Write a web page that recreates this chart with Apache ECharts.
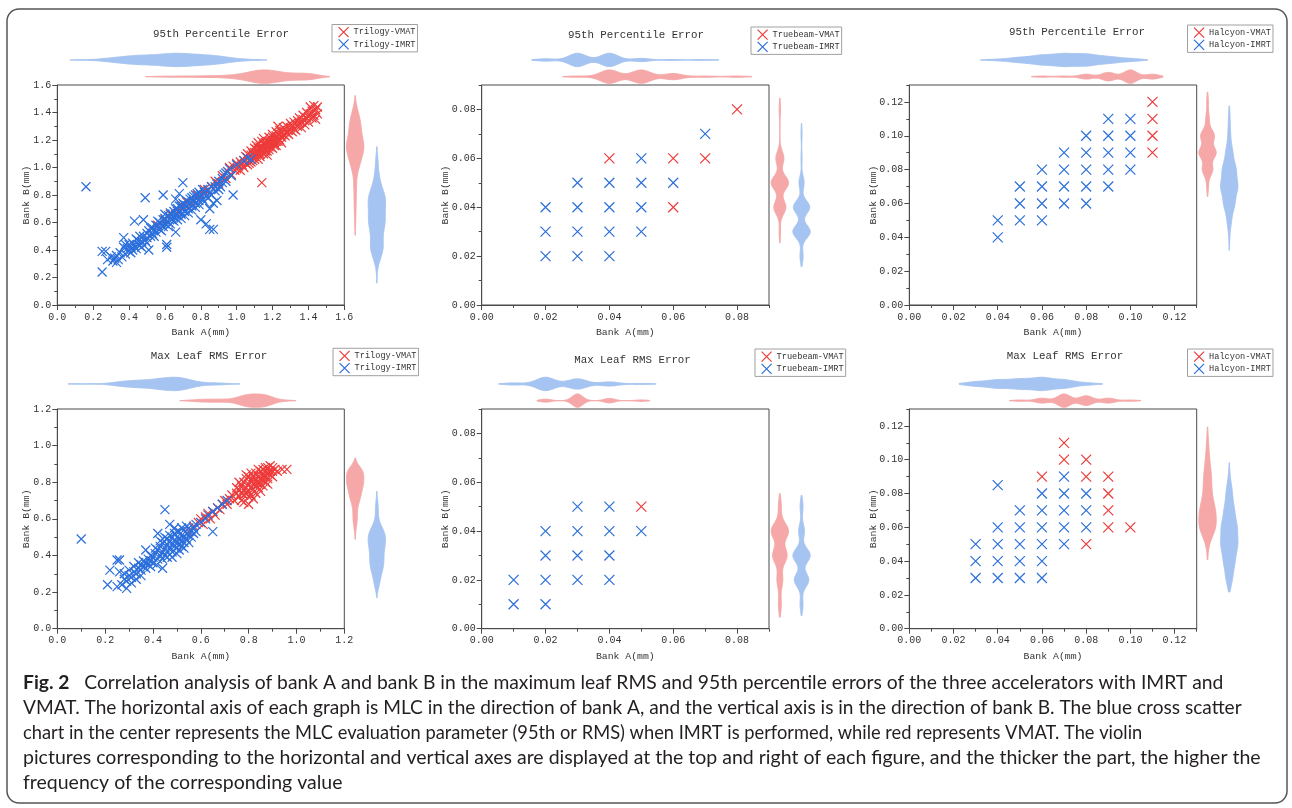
<!DOCTYPE html>
<html><head><meta charset="utf-8">
<script src="https://cdn.jsdelivr.net/npm/echarts@6/dist/echarts.min.js"></script>
<style>html,body{margin:0;padding:0;background:#fff}#c{width:1292px;height:808px}</style>
</head><body><div id="c"></div>
<script>
// ---------------- DATA ----------------
// Trilogy, 95th percentile error  [bankA, bankB] (mm)
const TRILOGY_95_VMAT = [
[0.56,0.58],[0.60,0.62],[0.63,0.66],[0.67,0.68],[0.70,0.72],[0.72,0.75],[0.75,0.74],[0.78,0.80],[0.80,0.78],[0.82,0.84],[0.84,0.83],[0.86,0.86],[0.88,0.90],[0.90,0.88],[0.92,0.94],[0.94,0.92],[0.95,0.97],[0.96,1.00],[0.97,0.95],[0.98,1.01],[0.99,0.98],[1.00,1.03],[1.00,0.99],[1.01,1.01],[1.02,1.04],[1.02,0.98],[1.03,1.02],[1.04,1.05],[1.04,1.00],[1.05,1.03],[1.06,1.07],[1.06,1.02],[1.07,1.05],[1.08,1.09],[1.08,1.04],[1.09,1.07],[1.10,1.11],[1.10,1.06],[1.11,1.09],[1.11,1.13],[1.12,1.10],[1.12,1.14],[1.13,1.12],[1.13,1.08],[1.14,0.89],[1.14,1.15],[1.14,1.11],[1.15,1.13],[1.15,1.17],[1.16,1.14],[1.16,1.18],[1.17,1.12],[1.17,1.16],[1.18,1.19],[1.18,1.15],[1.19,1.17],[1.19,1.21],[1.20,1.18],[1.20,1.22],[1.21,1.16],[1.21,1.20],[1.22,1.23],[1.22,1.19],[1.23,1.21],[1.23,1.30],[1.24,1.24],[1.24,1.20],[1.25,1.22],[1.25,1.26],[1.26,1.24],[1.26,1.29],[1.27,1.23],[1.27,1.27],[1.28,1.25],[1.28,1.30],[1.29,1.27],[1.29,1.24],[1.30,1.29],[1.30,1.32],[1.31,1.26],[1.31,1.30],[1.32,1.28],[1.32,1.33],[1.33,1.31],[1.33,1.27],[1.34,1.34],[1.34,1.30],[1.35,1.32],[1.35,1.36],[1.36,1.33],[1.36,1.29],[1.37,1.35],[1.37,1.38],[1.38,1.34],[1.38,1.31],[1.39,1.36],[1.39,1.40],[1.40,1.37],[1.40,1.33],[1.41,1.39],[1.41,1.44],[1.42,1.36],[1.42,1.41],[1.43,1.45],[1.43,1.38],[1.44,1.42],[1.44,1.35],[1.45,1.44],[1.45,1.39],
[1.05,1.08],[1.06,1.10],[1.07,1.03],[1.08,1.12],[1.09,1.05],[1.10,1.14],[1.10,1.08],[1.11,1.16],[1.12,1.06],[1.12,1.18],[1.13,1.10],[1.13,1.15],[1.14,1.19],[1.15,1.10],[1.15,1.21],[1.16,1.12],[1.16,1.16],[1.17,1.19],[1.17,1.09],[1.18,1.22],[1.18,1.13],[1.19,1.15],[1.20,1.24],[1.20,1.14],[1.21,1.18],[1.22,1.16],[1.22,1.26],[1.23,1.19],[1.24,1.27],[1.25,1.18],[1.14,1.13],[1.11,1.11],[1.09,1.10],[1.19,1.19]
];
const TRILOGY_95_IMRT = [
[0.16,0.86],[0.25,0.24],[0.25,0.39],[0.27,0.39],[0.28,0.33],[0.30,0.35],[0.31,0.32],[0.32,0.34],[0.33,0.31],[0.33,0.36],[0.34,0.33],[0.35,0.38],[0.36,0.35],[0.37,0.42],[0.37,0.49],[0.38,0.37],[0.39,0.41],[0.40,0.39],[0.40,0.44],[0.41,0.42],[0.42,0.40],[0.42,0.45],[0.43,0.61],[0.43,0.43],[0.44,0.41],[0.45,0.44],[0.45,0.47],[0.46,0.43],
[0.47,0.46],[0.48,0.50],[0.48,0.62],[0.49,0.78],[0.49,0.47],[0.50,0.52],[0.50,0.49],[0.51,0.40],[0.51,0.54],[0.52,0.50],[0.53,0.56],[0.53,0.52],[0.54,0.55],[0.55,0.58],[0.55,0.53],[0.56,0.57],[0.57,0.60],[0.57,0.55],[0.58,0.58],[0.59,0.80],[0.59,0.62],[0.60,0.59],[0.60,0.63],[0.61,0.44],[0.61,0.42],[0.61,0.61],[0.62,0.65],[0.62,0.60],[0.63,0.63],[0.63,0.67],[0.64,0.62],[0.64,0.66],[0.65,0.64],[0.65,0.68],[0.66,0.53],[0.66,0.66],[0.66,0.77],[0.67,0.70],[0.67,0.65],[0.68,0.81],[0.68,0.68],[0.69,0.72],[0.69,0.66],[0.70,0.89],[0.70,0.70],[0.70,0.74],
[0.71,0.68],[0.72,0.72],[0.72,0.76],[0.73,0.70],[0.74,0.74],[0.74,0.77],[0.75,0.72],[0.76,0.76],[0.76,0.79],[0.77,0.74],[0.78,0.78],[0.78,0.81],[0.79,0.76],[0.80,0.62],[0.80,0.80],[0.81,0.77],[0.82,0.82],[0.83,0.59],[0.83,0.79],[0.84,0.84],[0.85,0.55],[0.85,0.70],[0.85,0.81],[0.86,0.86],[0.87,0.55],[0.87,0.74],[0.88,0.83],[0.89,0.76],[0.89,0.88],[0.90,0.90],[0.91,0.86],[0.92,0.92],[0.93,0.95],[0.94,0.90],[0.95,0.97],[0.96,0.99],[0.98,0.80],[1.00,1.02],[1.04,1.05],[1.06,1.07],[1.08,1.06],
[0.38,0.44],[0.41,0.38],[0.44,0.48],[0.46,0.50],[0.47,0.42],[0.50,0.45],[0.52,0.56],[0.54,0.50],[0.56,0.61],[0.58,0.54],[0.59,0.57],[0.60,0.66],[0.62,0.57],[0.63,0.59],[0.65,0.61],[0.66,0.70],[0.67,0.62],[0.68,0.72],[0.69,0.63],[0.71,0.73],[0.71,0.65],[0.73,0.75],[0.73,0.67],[0.75,0.78],[0.75,0.69],[0.77,0.80],[0.77,0.71],[0.79,0.82],[0.79,0.73],[0.81,0.84],[0.82,0.75],[0.84,0.78],[0.86,0.80],[0.88,0.86],[0.90,0.84],[0.92,0.89],[0.94,0.96],[0.97,0.94]
];
// Trilogy, max leaf RMS error
const TRILOGY_RMS_VMAT = [
[0.55,0.53],[0.57,0.56],[0.59,0.58],[0.60,0.60],[0.61,0.57],[0.62,0.61],[0.63,0.63],[0.64,0.60],[0.65,0.64],[0.66,0.62],[0.67,0.66],[0.68,0.65],[0.69,0.68],[0.70,0.70],[0.71,0.68],[0.72,0.71],[0.73,0.73],[0.74,0.70],[0.75,0.74],[0.75,0.77],[0.76,0.72],[0.76,0.76],[0.77,0.78],[0.77,0.74],[0.78,0.69],[0.78,0.76],[0.78,0.80],[0.79,0.77],[0.79,0.74],[0.79,0.82],[0.80,0.68],[0.80,0.79],[0.80,0.75],[0.80,0.83],[0.81,0.77],[0.81,0.81],[0.81,0.73],[0.82,0.79],[0.82,0.83],[0.82,0.76],[0.83,0.81],[0.83,0.78],[0.83,0.85],[0.84,0.80],[0.84,0.83],[0.84,0.77],[0.85,0.82],[0.85,0.86],[0.85,0.79],[0.86,0.84],[0.86,0.81],[0.86,0.87],[0.87,0.83],[0.87,0.86],[0.87,0.80],[0.88,0.85],[0.88,0.88],[0.88,0.82],[0.89,0.86],[0.89,0.84],[0.90,0.88],[0.90,0.86],[0.94,0.87],[0.96,0.87],
[0.76,0.80],[0.77,0.70],[0.79,0.84],[0.80,0.72],[0.81,0.85],[0.82,0.71],[0.83,0.74],[0.84,0.87],[0.85,0.75],[0.86,0.78],[0.87,0.88],[0.88,0.79],[0.89,0.89],[0.90,0.83],[0.91,0.87],[0.92,0.86],[0.78,0.73],[0.82,0.81],[0.84,0.79],[0.86,0.83]
];
const TRILOGY_RMS_IMRT = [
[0.10,0.49],[0.21,0.24],[0.22,0.32],[0.25,0.23],[0.25,0.375],[0.26,0.375],[0.26,0.31],[0.27,0.24],[0.28,0.27],[0.28,0.30],[0.29,0.26],[0.30,0.29],[0.30,0.32],[0.31,0.28],[0.32,0.31],[0.32,0.34],[0.33,0.30],[0.34,0.33],[0.34,0.36],[0.35,0.32],[0.35,0.35],[0.36,0.37],[0.36,0.34],[0.37,0.43],[0.37,0.36],[0.38,0.38],[0.38,0.35],[0.39,0.40],[0.39,0.37],[0.40,0.39],[0.40,0.36],[0.41,0.41],[0.415,0.35],[0.42,0.52],[0.42,0.38],[0.42,0.43],[0.43,0.40],[0.43,0.45],[0.44,0.33],[0.44,0.42],[0.44,0.47],[0.45,0.65],[0.45,0.44],[0.45,0.40],[0.46,0.46],[0.46,0.49],[0.46,0.42],[0.47,0.57],[0.47,0.44],[0.47,0.48],[0.48,0.46],[0.48,0.50],[0.48,0.42],[0.49,0.45],[0.49,0.48],[0.49,0.52],[0.50,0.44],[0.50,0.47],[0.50,0.50],[0.51,0.46],[0.51,0.49],[0.51,0.53],[0.52,0.45],[0.52,0.48],[0.52,0.51],[0.53,0.47],[0.53,0.50],[0.53,0.54],[0.54,0.49],[0.54,0.52],[0.55,0.51],[0.55,0.55],[0.56,0.53],[0.57,0.55],[0.58,0.53],[0.58,0.57],[0.60,0.58],[0.62,0.60],[0.63,0.62],[0.65,0.53],[0.65,0.64],[0.67,0.66],[0.69,0.68],[0.71,0.70],
[0.43,0.48],[0.44,0.38],[0.45,0.50],[0.46,0.39],[0.47,0.51],[0.48,0.39],[0.49,0.55],[0.50,0.41],[0.50,0.53],[0.51,0.43],[0.52,0.55],[0.53,0.44],[0.54,0.56],[0.55,0.47],[0.56,0.50],[0.57,0.52],[0.33,0.27],[0.35,0.29],[0.37,0.33],[0.39,0.34],[0.41,0.44],[0.31,0.25],[0.29,0.22]
];
// Truebeam / Halcyon: [bankA, bankB, number of plans at that point]
const TRUEBEAM_95_VMAT = [[0.03,0.03,1],[0.04,0.04,4],[0.04,0.05,6],[0.04,0.06,1],[0.05,0.04,4],[0.05,0.05,5],[0.05,0.06,2],[0.06,0.04,1],[0.06,0.05,2],[0.06,0.06,2],[0.07,0.06,1],[0.08,0.08,1]];
const TRUEBEAM_95_IMRT = [[0.02,0.02,1],[0.02,0.03,1],[0.02,0.04,1],[0.03,0.02,1],[0.03,0.03,8],[0.03,0.04,7],[0.03,0.05,1],[0.04,0.02,1],[0.04,0.03,7],[0.04,0.04,7],[0.04,0.05,2],[0.05,0.03,1],[0.05,0.04,1],[0.05,0.05,1],[0.05,0.06,1],[0.06,0.05,1],[0.07,0.07,1]];
const HALCYON_95_VMAT = [[0.06,0.07,1],[0.07,0.08,1],[0.08,0.08,1],[0.08,0.09,2],[0.08,0.10,1],[0.09,0.08,2],[0.09,0.09,3],[0.09,0.10,2],[0.10,0.08,2],[0.10,0.09,4],[0.10,0.10,4],[0.10,0.11,1],[0.11,0.09,1],[0.11,0.10,1],[0.11,0.11,1],[0.11,0.12,1]];
const HALCYON_95_IMRT = [[0.04,0.04,1],[0.04,0.05,1],[0.05,0.05,2],[0.05,0.06,3],[0.05,0.07,2],[0.06,0.05,2],[0.06,0.06,4],[0.06,0.07,5],[0.06,0.08,2],[0.07,0.06,4],[0.07,0.07,6],[0.07,0.08,5],[0.07,0.09,2],[0.08,0.06,2],[0.08,0.07,5],[0.08,0.08,5],[0.08,0.09,3],[0.08,0.10,1],[0.09,0.07,2],[0.09,0.08,3],[0.09,0.09,2],[0.09,0.10,1],[0.09,0.11,1],[0.10,0.08,1],[0.10,0.09,1],[0.10,0.10,1],[0.10,0.11,1]];
const TRUEBEAM_RMS_VMAT = [[0.02,0.01,1],[0.02,0.02,1],[0.03,0.02,1],[0.03,0.03,4],[0.03,0.04,4],[0.04,0.03,1],[0.04,0.04,2],[0.05,0.05,1]];
const TRUEBEAM_RMS_IMRT = [[0.01,0.01,1],[0.01,0.02,1],[0.02,0.01,1],[0.02,0.02,4],[0.02,0.03,7],[0.02,0.04,1],[0.03,0.02,4],[0.03,0.03,4],[0.03,0.04,1],[0.03,0.05,1],[0.04,0.02,1],[0.04,0.03,1],[0.04,0.04,1],[0.04,0.05,1],[0.05,0.04,1]];
const HALCYON_RMS_VMAT = [[0.05,0.06,1],[0.06,0.06,1],[0.06,0.07,2],[0.06,0.09,1],[0.07,0.06,3],[0.07,0.07,3],[0.07,0.08,2],[0.07,0.09,1],[0.07,0.10,1],[0.07,0.11,1],[0.08,0.05,1],[0.08,0.06,2],[0.08,0.07,2],[0.08,0.08,1],[0.08,0.09,1],[0.08,0.10,1],[0.09,0.06,1],[0.09,0.07,1],[0.09,0.08,1],[0.09,0.09,1],[0.10,0.06,1]];
const HALCYON_RMS_IMRT = [[0.03,0.03,2],[0.03,0.04,2],[0.03,0.05,2],[0.04,0.03,2],[0.04,0.04,3],[0.04,0.05,3],[0.04,0.06,2],[0.04,0.085,1],[0.05,0.03,1],[0.05,0.04,3],[0.05,0.05,4],[0.05,0.06,3],[0.05,0.07,2],[0.06,0.03,1],[0.06,0.04,2],[0.06,0.05,4],[0.06,0.06,5],[0.06,0.07,3],[0.06,0.08,2],[0.07,0.05,2],[0.07,0.06,3],[0.07,0.07,3],[0.07,0.08,2],[0.07,0.09,1],[0.08,0.06,1],[0.08,0.07,1],[0.08,0.08,1]];

// Tick labels
const TICKS_16 = [0, 0.2, 0.4, 0.6, 0.8, 1.0, 1.2, 1.4, 1.6];
const TICKS_12 = [0, 0.2, 0.4, 0.6, 0.8, 1.0, 1.2];
const TICKS_008 = [0, 0.02, 0.04, 0.06, 0.08];
const TICKS_012 = [0, 0.02, 0.04, 0.06, 0.08, 0.10, 0.12];

const TITLES = ['95th Percentile Error', '95th Percentile Error', '95th Percentile Error', 'Max Leaf RMS Error', 'Max Leaf RMS Error', 'Max Leaf RMS Error'];
const SERIES_NAMES = [['Trilogy-VMAT','Trilogy-IMRT'],['Truebeam-VMAT','Truebeam-IMRT'],['Halcyon-VMAT','Halcyon-IMRT'],['Trilogy-VMAT','Trilogy-IMRT'],['Truebeam-VMAT','Truebeam-IMRT'],['Halcyon-VMAT','Halcyon-IMRT']];
const CAPTION_LINES = [
  'Correlation analysis of bank A and bank B in the maximum leaf RMS and 95th percentile errors of the three accelerators with IMRT and',
  'VMAT. The horizontal axis of each graph is MLC in the direction of bank A, and the vertical axis is in the direction of bank B. The blue cross scatter',
  'chart in the center represents the MLC evaluation parameter (95th or RMS) when IMRT is performed, while red represents VMAT. The violin',
  'pictures corresponding to the horizontal and vertical axes are displayed at the top and right of each figure, and the thicker the part, the higher the',
  'frequency of the corresponding value'
];

// ---------------- HELPERS ----------------
function expand(table){ const out=[]; table.forEach(r=>{ for(let k=0;k<r[2];k++) out.push([r[0],r[1]]); }); return out; }
function rows(table){ return table.map(r=>[r[0],r[1]]); }
// rows of `under` that are not covered by a mark of `over` (drawn on top)
function uncovered(under, over){ return rows(under).filter(a=>!over.some(b=>Math.abs(a[0]-b[0])<1e-9 && Math.abs(a[1]-b[1])<1e-9)); }

const RED = '#ee3b3b', BLUE = '#2b6fdc';
const RED_V = '#f6a7a7', BLUE_V = '#a5c4f1';
const AX = '#4a4a4a', TXT = '#333';
const MONO = 'Liberation Mono';
const XPATH = 'path://M0,0L10,10M10,0L0,10';
const TOPH = 33.4, RIGHTW = 43.4, HALF = 0.8, BW = 0.85;

function kde(values){
  const n = values.length;
  const mean = values.reduce((a,b)=>a+b,0)/n;
  const sd = Math.sqrt(values.reduce((a,b)=>a+(b-mean)*(b-mean),0)/Math.max(1,n-1));
  const s = values.slice().sort((a,b)=>a-b);
  const q = p => { const i=(n-1)*p, lo=Math.floor(i), hi=Math.ceil(i); return s[lo]+(s[hi]-s[lo])*(i-lo); };
  const iqr = q(0.75)-q(0.25);
  const spread = iqr>0 ? Math.min(sd, iqr/1.34) : sd;
  const h = BW*0.9*spread*Math.pow(n,-0.2);
  const lo = s[0]-1.6*h, hi = s[n-1]+1.6*h, M = 180;
  const pts = [];
  for(let i=0;i<=M;i++){
    const v = lo+(hi-lo)*i/M; let d=0;
    for(const x of values){ const z=(v-x)/h; d+=Math.exp(-0.5*z*z); }
    pts.push([v,d]);
  }
  const mx = Math.max.apply(null, pts.map(p=>p[1]));
  return pts.map(p=>[p[0], p[1]/mx]);
}

function violin(values, horizontal, center, color, xi, yi){
  const curve = kde(values);
  return {
    type:'custom', xAxisIndex:xi, yAxisIndex:yi, silent:true, clip:false, animation:false,
    data:[[0,0]],
    renderItem:(params, api)=>{
      const pts=[];
      if(horizontal){
        curve.forEach(c=>pts.push(api.coord([c[0], center + HALF*c[1]])));
        for(let i=curve.length-1;i>=0;i--) pts.push(api.coord([curve[i][0], center - HALF*curve[i][1]]));
      } else {
        curve.forEach(c=>pts.push(api.coord([center + HALF*c[1], c[0]])));
        for(let i=curve.length-1;i>=0;i--) pts.push(api.coord([center - HALF*curve[i][1], curve[i][0]]));
      }
      return {type:'polygon', shape:{points:pts}, style:{fill:color, stroke:color, lineWidth:1}};
    }
  };
}

const PANELS = [
  {vmat:TRILOGY_95_VMAT, imrt:TRILOGY_95_IMRT, vPts:TRILOGY_95_VMAT, iPts:TRILOGY_95_IMRT,
   ticks:TICKS_16, max:1.6, step:0.2, dec:1, size:9,
   grid:{left:57.3, top:85, width:287, height:220}, yGap:25.5, legend:[332,24.5], title:[221,34]},
  {vmat:expand(TRUEBEAM_95_VMAT), imrt:expand(TRUEBEAM_95_IMRT), vPts:uncovered(TRUEBEAM_95_VMAT,TRUEBEAM_95_IMRT), iPts:rows(TRUEBEAM_95_IMRT),
   ticks:TICKS_008, max:0.09, step:0.02, dec:2, size:10,
   grid:{left:481.7, top:85, width:287.3, height:220}, yGap:31.5, legend:[751,27], title:[636,35]},
  {vmat:expand(HALCYON_95_VMAT), imrt:expand(HALCYON_95_IMRT), vPts:uncovered(HALCYON_95_VMAT,HALCYON_95_IMRT), iPts:rows(HALCYON_95_IMRT),
   ticks:TICKS_012, max:0.13, step:0.02, dec:2, size:10,
   grid:{left:909.3, top:85, width:287.4, height:220}, yGap:31, legend:[1187.5,25], title:[1077,31.7]},
  {vmat:TRILOGY_RMS_VMAT, imrt:TRILOGY_RMS_IMRT, vPts:TRILOGY_RMS_VMAT, iPts:TRILOGY_RMS_IMRT,
   ticks:TICKS_12, max:1.2, step:0.2, dec:1, size:9,
   grid:{left:57.3, top:409, width:287, height:219.7}, yGap:25.5, legend:[333,348.3], title:[209,356]},
  {vmat:expand(TRUEBEAM_RMS_VMAT), imrt:expand(TRUEBEAM_RMS_IMRT), vPts:uncovered(TRUEBEAM_RMS_VMAT,TRUEBEAM_RMS_IMRT), iPts:rows(TRUEBEAM_RMS_IMRT),
   ticks:TICKS_008, max:0.09, step:0.02, dec:2, size:10,
   grid:{left:481.7, top:409, width:287.3, height:219.7}, yGap:31.5, legend:[755,349], title:[632.5,360]},
  {vmat:expand(HALCYON_RMS_VMAT), imrt:expand(HALCYON_RMS_IMRT), vPts:uncovered(HALCYON_RMS_VMAT,HALCYON_RMS_IMRT), iPts:rows(HALCYON_RMS_IMRT),
   ticks:TICKS_012, max:0.13, step:0.02, dec:2, size:10,
   grid:{left:909.3, top:409, width:287.4, height:219.7}, yGap:31, legend:[1187.5,349], title:[1065,355.7]}
];

const grids=[], xAxes=[], yAxes=[], series=[], legends=[], graphics=[];
PANELS.forEach((P,p)=>{
  const g=P.grid, gi=3*p, ai=4*p;
  grids.push({left:g.left, top:g.top, width:g.width, height:g.height, show:true, borderColor:AX, borderWidth:1, backgroundColor:'transparent', containLabel:false, outerBoundsMode:'none'});
  grids.push({left:g.left, top:g.top-TOPH, width:g.width, height:TOPH, containLabel:false, outerBoundsMode:'none'});
  grids.push({left:g.left+g.width, top:g.top, width:RIGHTW, height:g.height, containLabel:false, outerBoundsMode:'none'});
  const fmt = v => P.ticks.some(t=>Math.abs(t-v)<1e-9) ? v.toFixed(P.dec) : '';
  const labelStyle = {show:true, fontFamily:MONO, fontSize:10, color:TXT, formatter:fmt, customValues:P.ticks};
  const nameStyle = {fontFamily:MONO, fontSize:9.8, color:TXT};
  const mainAxis = (dim) => ({
    type:'value', gridIndex:gi, min:0, max:P.max, interval:P.step, position: dim==='x'?'bottom':'left',
    name: dim==='x' ? 'Bank A(mm)' : 'Bank B(mm)', nameLocation:'middle', nameGap: dim==='x'?22.5:P.yGap,
    nameMoveOverlap:false, nameTextStyle:nameStyle,
    axisLine:{show:true, onZero:false, lineStyle:{color:AX, width:1}},
    axisTick:{show:true, inside:false, length:5, customValues:P.ticks, lineStyle:{color:AX, width:1}},
    axisLabel:Object.assign({margin: dim==='x'?7:6}, labelStyle),
    splitLine:{show:false}, minorTick:{show:false}, minorSplitLine:{show:false}, splitArea:{show:false}
  });
  const minorAxis = (dim) => ({
    type:'value', gridIndex:gi, min:0, max:P.max, interval:P.step/2, position: dim==='x'?'bottom':'left',
    axisLine:{show:false, onZero:false}, axisTick:{show:true, inside:false, length:3, lineStyle:{color:AX, width:1}},
    axisLabel:{show:false}, splitLine:{show:false}, splitArea:{show:false}
  });
  xAxes.push(mainAxis('x'), minorAxis('x'),
    {type:'value', gridIndex:gi+1, min:0, max:P.max, show:false, splitLine:{show:false}},
    {type:'value', gridIndex:gi+2, min:0, max:4, show:false, splitLine:{show:false}});
  yAxes.push(mainAxis('y'), minorAxis('y'),
    {type:'value', gridIndex:gi+1, min:0, max:4, show:false, splitLine:{show:false}},
    {type:'value', gridIndex:gi+2, min:0, max:P.max, show:false, splitLine:{show:false}});

  const scat = (name, data, color) => ({
    type:'scatter', name, xAxisIndex:ai, yAxisIndex:ai, data, symbol:XPATH, symbolSize:P.size,
    itemStyle:{color:'rgba(0,0,0,0)', borderColor:color, borderWidth:1.2, opacity:1},
    silent:true, animation:false
  });
  series.push(scat(SERIES_NAMES[p][0], P.vPts, RED));
  series.push(scat(SERIES_NAMES[p][1], P.iPts, BLUE));
  // marginal violins: top = bank A distribution, right = bank B distribution
  series.push(violin(P.imrt.map(d=>d[0]), true, 3, BLUE_V, ai+2, ai+2));
  series.push(violin(P.vmat.map(d=>d[0]), true, 1, RED_V, ai+2, ai+2));
  series.push(violin(P.vmat.map(d=>d[1]), false, 1, RED_V, ai+3, ai+3));
  series.push(violin(P.imrt.map(d=>d[1]), false, 3, BLUE_V, ai+3, ai+3));

  legends.push({
    orient:'vertical', left:P.legend[0], top:P.legend[1], padding:[2,2,2,6], itemGap:1,
    itemWidth:10, itemHeight:10, itemTextGap:10, borderColor:'#a0a0a0', borderWidth:1, backgroundColor:'#fff',
    icon:XPATH, itemStyle:{borderWidth:1.2}, selectedMode:false,
    textStyle:{fontFamily:MONO, fontSize:8.6, color:TXT},
    data:SERIES_NAMES[p]
  });
  graphics.push({type:'text', x:P.title[0], y:P.title[1], silent:true,
    style:{text:TITLES[p], fontFamily:MONO, fontSize:10.8, fill:TXT, align:'center', verticalAlign:'middle'}});
});

// figure frame
graphics.push({type:'rect', silent:true, shape:{x:7, y:9, width:1280, height:794, r:12},
  style:{fill:'none', stroke:'#555', lineWidth:1.5}, z:-10});
// caption
const CAP_Y = [683, 708, 733, 758, 783];
const CAP_SIZE = [19.3, 19.1, 18.3, 19.5, 19.5];
CAPTION_LINES.forEach((t,i)=>{
  graphics.push({type:'text', x:23, y:CAP_Y[i], silent:true,
    style:{text: i===0 ? '{b|Fig. 2}   ' + t : t, fontFamily:'Lato', fontSize:CAP_SIZE[i], fill:'#231f20',
      align:'left', verticalAlign:'middle',
      rich:{b:{fontFamily:'Lato', fontSize:CAP_SIZE[i], fontWeight:'bold', fill:'#231f20'}}}});
});

const chart = echarts.init(document.getElementById('c'), null, {renderer:'canvas'});
chart.setOption({
  animation:false, backgroundColor:'#fff',
  grid:grids, xAxis:xAxes, yAxis:yAxes, series, legend:legends, graphic:graphics
});
</script></body></html>
